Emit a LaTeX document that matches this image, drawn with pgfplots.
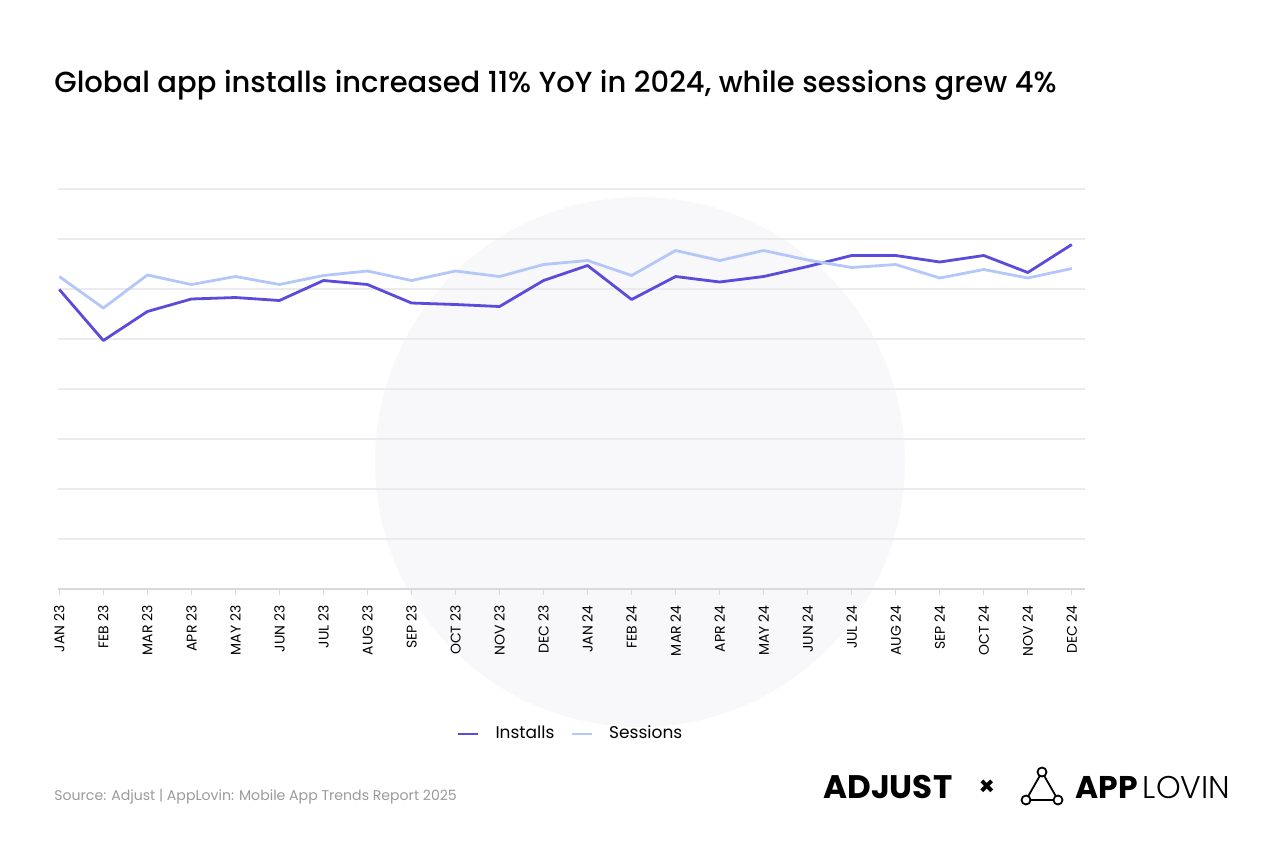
\documentclass[border=0pt]{standalone}
\usepackage{fontspec}
\setmainfont{Poppins}
\usepackage{pgfplots}
\pgfplotsset{compat=1.18}
\definecolor{installs}{HTML}{5B4BDB}
\definecolor{sessions}{HTML}{B3C8F8}
\definecolor{gridc}{HTML}{EBEBEE}
\definecolor{axisc}{HTML}{D9D9D9}
\definecolor{wm}{HTML}{F8F8FA}
\definecolor{srcc}{HTML}{9A9A9A}
\begin{document}
\begin{tikzpicture}[x=0.5pt,y=-0.5pt]
\path[use as bounding box] (0,0) rectangle (1280,853);
\fill[wm] (640,462) circle (265);
\node[anchor=base west,inner sep=0pt,font=\fontsize{14.5}{17}\selectfont\fontspec{Poppins Medium}] at (54,92) {Global app installs increased 11\% YoY in 2024, while sessions grew 4\%};
\coordinate (axorig) at (58,589);
\begin{axis}[
  at={(axorig)}, anchor=south west,
  scale only axis, width=513.5pt, height=200pt,
  xmin=-0.03, xmax=23.3, ymin=0, ymax=8,
  xtick={0,...,23},
  xticklabels={JAN 23,FEB 23,MAR 23,APR 23,MAY 23,JUN 23,JUL 23,AUG 23,SEP 23,OCT 23,NOV 23,DEC 23,JAN 24,FEB 24,MAR 24,APR 24,MAY 24,JUN 24,JUL 24,AUG 24,SEP 24,OCT 24,NOV 24,DEC 24},
  xticklabel style={rotate=90, anchor=east, font=\fontsize{7}{8}\selectfont, text=black, inner sep=0pt, xshift=-5pt},
  xtick align=outside, major tick length=3pt,
  x tick style={draw=axisc, line width=0.5pt},
  ytick={0,...,8}, yticklabels={}, y tick style={draw=none},
  ymajorgrids, grid style={draw=gridc, line width=0.6pt},
  axis x line*=bottom, axis y line*=left,
  y axis line style={draw=none},
  x axis line style={draw=axisc, line width=0.8pt, -},
  legend style={at={(0.5,-0.3625)}, anchor=center, draw=none, fill=none,
    font=\fontsize{8.5}{10}\selectfont, column sep=6pt},
  legend columns=2,
  legend image code/.code={\draw[#1] (0pt,0pt) -- (10pt,0pt);},
]
\addplot[installs, line width=1.4pt, line join=round] coordinates {
(0,5.99) (1,4.97) (2,5.55) (3,5.80) (4,5.83) (5,5.77) (6,6.17) (7,6.09)
(8,5.72) (9,5.69) (10,5.65) (11,6.17) (12,6.47) (13,5.79) (14,6.25) (15,6.14)
(16,6.25) (17,6.45) (18,6.67) (19,6.67) (20,6.54) (21,6.67) (22,6.33) (23,6.89)};
\addlegendentry{Installs}
\addplot[sessions, line width=1.4pt, line join=round] coordinates {
(0,6.25) (1,5.62) (2,6.28) (3,6.09) (4,6.25) (5,6.09) (6,6.27) (7,6.36)
(8,6.17) (9,6.36) (10,6.25) (11,6.49) (12,6.57) (13,6.27) (14,6.77) (15,6.57)
(16,6.77) (17,6.58) (18,6.43) (19,6.49) (20,6.22) (21,6.39) (22,6.22) (23,6.41)};
\addlegendentry{Sessions}
\end{axis}
\node[anchor=base west,inner sep=0pt,text=srcc,font=\fontsize{7.05}{8}\selectfont] at (54,800) {Source: Adjust | AppLovin: Mobile App Trends Report 2025};
\node[anchor=base west,inner sep=0pt,font=\fontsize{16.3}{18}\selectfont\bfseries] at (823,798) {ADJUST};
\node[anchor=base,inner sep=0pt,font=\fontsize{13}{15}\selectfont\bfseries] at (987,795) {×};
\draw[line width=0.9pt] (1042,772) -- (1026,800) -- (1058,800) -- cycle;
\fill[white] (1042,772) circle (4.5); \draw[line width=0.9pt] (1042,772) circle (4.5);
\fill[white] (1026,800) circle (4.5); \draw[line width=0.9pt] (1026,800) circle (4.5);
\fill[white] (1058,800) circle (4.5); \draw[line width=0.9pt] (1058,800) circle (4.5);
\node[anchor=base west,inner sep=0pt,font=\fontsize{15.7}{18}\selectfont] at (1075,798) {\textbf{APP}\,{\fontspec{Poppins Light}LOVIN}};
\end{tikzpicture}
\end{document}
